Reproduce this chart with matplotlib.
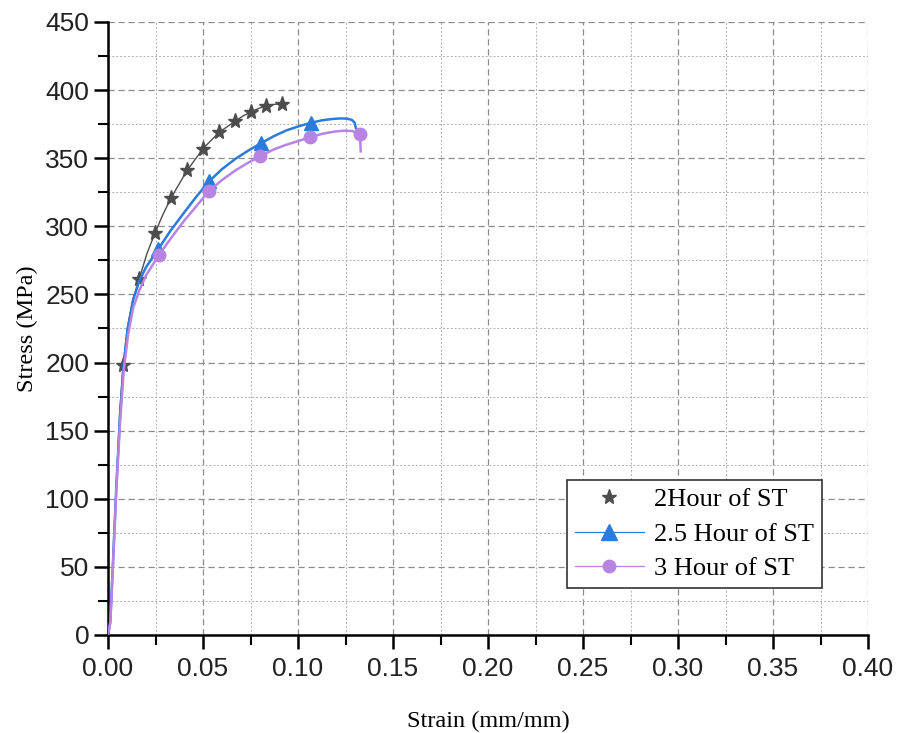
import numpy as np
import matplotlib.pyplot as plt
from matplotlib.lines import Line2D
from matplotlib.ticker import MultipleLocator

# stress-strain curves after solution treatment (ST)
strain_2h = [0, 0.0012, 0.0025, 0.0044, 0.0061, 0.0079, 0.0100, 0.0130, 0.0163, 0.0205,
             0.0247, 0.0290, 0.0332, 0.0374, 0.0416, 0.0458, 0.0500, 0.0542, 0.0584, 0.0626,
             0.0668, 0.0710, 0.0753, 0.0792, 0.0832, 0.0874, 0.0916]
stress_2h = [0, 10, 50, 112, 163, 198, 224, 246, 261, 280,
             295, 309, 321, 331, 341, 349, 357, 363, 369, 373,
             377, 381, 384, 386.5, 388.5, 389.5, 390]
marks_2h = [5, 8, 10, 12, 14, 16, 18, 20, 22, 24, 26]

strain_25h = [0, 0.0012, 0.0025, 0.0044, 0.0063, 0.0082, 0.0105, 0.0132, 0.0165, 0.0200,
              0.0263, 0.0330, 0.0400, 0.0466, 0.0532, 0.0600, 0.0670, 0.0737, 0.0805, 0.0870,
              0.0940, 0.1005, 0.1068, 0.1125, 0.1180, 0.1225, 0.1260, 0.1285, 0.1298, 0.1305]
stress_25h = [0, 10, 50, 110, 160, 198, 226, 246, 260, 270,
              283, 297, 310, 322, 333, 342, 349.5, 355.5, 361, 366,
              370.5, 373.5, 376, 377.8, 378.8, 379.2, 379, 378, 376, 372]
marks_25h = [10, 14, 18, 22]

strain_3h = [0, 0.0012, 0.0025, 0.0044, 0.0063, 0.0082, 0.0105, 0.0132, 0.0165, 0.0200,
             0.0268, 0.0335, 0.0400, 0.0466, 0.0532, 0.0600, 0.0670, 0.0735, 0.0800, 0.0865,
             0.0930, 0.1000, 0.1063, 0.1130, 0.1190, 0.1240, 0.1285, 0.1326, 0.1330]
stress_3h = [0, 9, 48, 107, 155, 193, 220, 240, 253, 264,
             279, 292, 304, 315, 326, 334, 341, 346.5, 351.5, 356,
             359.5, 362.5, 365.5, 368, 369.5, 370.2, 370, 367.5, 355]
marks_3h = [10, 14, 18, 22, 27]

labels = ["2Hour of ST", "2.5 Hour of ST", "3 Hour of ST"]
c_2h, c_25h, c_3h = "#4d4d4d", "#2b7bdc", "#b784e3"

fig = plt.figure(figsize=(8.98, 7.33), dpi=100)
ax = fig.add_axes([0.1203, 0.1337, 0.8463, 0.8363])

ax.plot(strain_2h, stress_2h, color=c_2h, lw=1.0, marker="*", ms=11,
        markevery=marks_2h, mec=c_2h, mfc=c_2h, zorder=3)
ax.plot(strain_25h, stress_25h, color=c_25h, lw=1.8, marker="^", ms=10,
        markevery=marks_25h, mec=c_25h, mfc=c_25h, zorder=3)
ax.plot(strain_3h, stress_3h, color=c_3h, lw=1.8, marker="o", ms=9,
        markevery=marks_3h, mec=c_3h, mfc=c_3h, zorder=4)

ax.set_xlim(0, 0.40)
ax.set_ylim(0, 450)
ax.xaxis.set_major_locator(MultipleLocator(0.05))
ax.xaxis.set_minor_locator(MultipleLocator(0.025))
ax.yaxis.set_major_locator(MultipleLocator(50))
ax.yaxis.set_minor_locator(MultipleLocator(25))
ax.xaxis.set_major_formatter(lambda v, p: f"{v:.2f}")

ax.grid(which="major", color="#8c8c8c", lw=0.9, ls=(0, (5, 3)))
ax.grid(which="minor", color="#b0b0b0", lw=0.7, ls=(0, (2, 2)))
ax.set_axisbelow(True)

for s in ["top", "right"]:
    ax.spines[s].set_visible(False)
for s in ["left", "bottom"]:
    ax.spines[s].set_linewidth(1.8)

ax.tick_params(which="major", direction="out", length=10, width=1.8,
               labelsize=19, colors="black")
ax.tick_params(which="minor", direction="out", length=7, width=1.5)
for lab in ax.get_xticklabels() + ax.get_yticklabels():
    lab.set_family("Liberation Sans")
    lab.set_color("#222222")
ax.tick_params(axis="x", pad=6)

ax.set_xlabel("Strain (mm/mm)", family="Liberation Serif", fontsize=17.5, labelpad=21)
ax.set_ylabel("Stress (MPa)", family="Liberation Serif", fontsize=17.5, labelpad=5)

handles = [
    Line2D([], [], ls="none", marker="*", ms=11, color=c_2h),
    Line2D([], [], color=c_25h, lw=0.9, marker="^", ms=11),
    Line2D([], [], color=c_3h, lw=0.9, marker="o", ms=9),
]
leg = ax.legend(handles, labels, loc="upper left", bbox_to_anchor=(0.604, 0.253),
                borderaxespad=0, prop={"family": "Liberation Serif", "size": 19},
                frameon=True, fancybox=False, edgecolor="#333333", framealpha=1,
                handlelength=2.6, handletextpad=0.4, labelspacing=0.42, borderpad=0.3)
leg.get_frame().set_linewidth(1.2)

fig.savefig("out.png", dpi=100)
